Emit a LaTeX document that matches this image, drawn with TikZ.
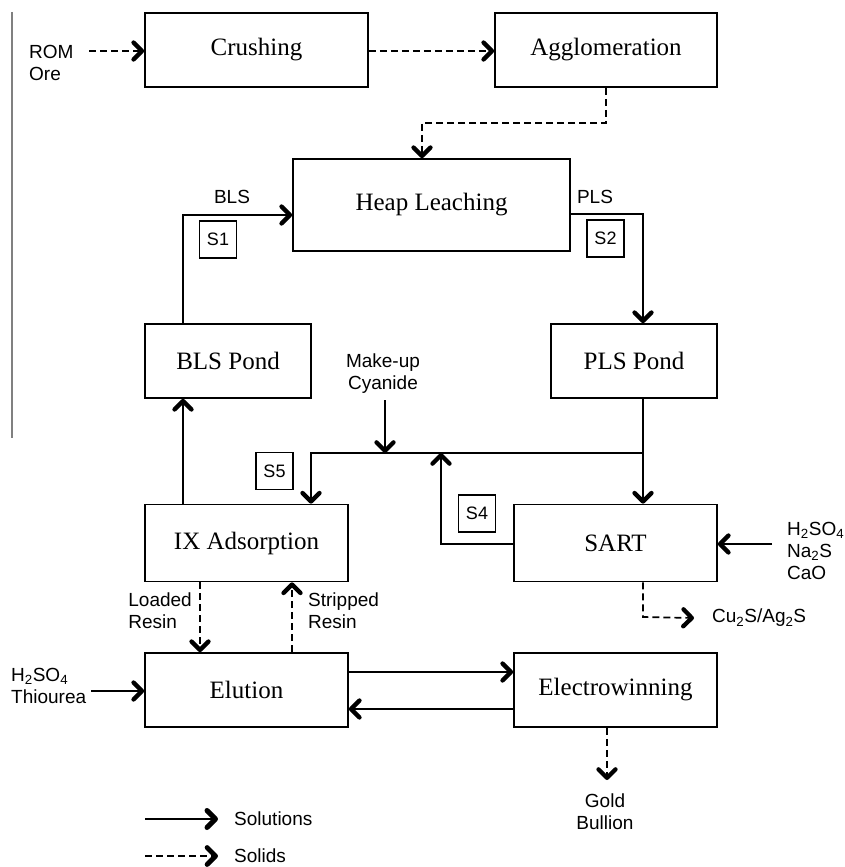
\documentclass[tikz,border=0pt]{standalone}
\usepackage{fontspec}
\setmainfont{Liberation Serif}
\newfontfamily\lsans{Liberation Sans}
\usetikzlibrary{arrows.meta}
\begin{document}
\begin{tikzpicture}[x=1pt,y=-1pt,
  box/.style={draw, line width=1.7pt, rectangle, inner sep=0pt, font=\fontsize{25}{30}\selectfont},
  sbox/.style={draw, line width=1.4pt, rectangle, inner sep=0pt, minimum width=37pt, minimum height=37pt, font=\lsans\fontsize{18}{21}\selectfont},
  lbl/.style={inner sep=0pt, font=\lsans\fontsize{19}{22}\selectfont},
  tip/.style={-{Straight Barb[length=8.5pt,width=17pt,line width=2.6pt 1,round]}},
  sol/.style={tip, line width=1.7pt},
  dsh/.style={tip, line width=1.7pt, dash pattern=on 7pt off 4pt},
]
\useasboundingbox (0,0) rectangle (844,867);
\draw[gray, line width=1.2pt] (12,12) -- (12,438);

% main boxes
\node[box, minimum width=223pt, minimum height=74pt] (crush) at (256.5,50) {Crushing};
\node[box, minimum width=222pt, minimum height=74pt] (aggl) at (606,50) {Agglomeration};
\node[box, minimum width=277pt, minimum height=92pt] (heap) at (431.5,205) {Heap Leaching};
\node[box, minimum width=166pt, minimum height=74pt] (blsp) at (228,361) {BLS Pond};
\node[box, minimum width=166pt, minimum height=74pt] (plsp) at (634,361) {PLS Pond};
\node[box, minimum width=203pt, minimum height=77pt] (ix) at (246.5,543) {IX Adsorption};
\node[box, minimum width=203pt, minimum height=77pt] (sart) at (615.5,543) {SART};
\node[box, minimum width=203pt, minimum height=74pt] (elu) at (246.5,690) {Elution};
\node[box, minimum width=203pt, minimum height=74pt] (ew) at (615.5,690) {Electrowinning};

% small stream boxes
\node[sbox] (s1) at (218,239.5) {S1};
\node[sbox] (s2) at (605.5,238.5) {S2};
\node[sbox] (s5) at (274.5,471) {S5};
\node[sbox] (s4) at (477,513.5) {S4};

% text labels
\node[lbl, align=left, anchor=west] (rom) at (29,63) {ROM\\Ore};
\node[lbl] (blst) at (232,197) {BLS};
\node[lbl] (plst) at (595,197) {PLS};
\node[lbl, align=center] (mk) at (383,374) {Make-up\\Cyanide};
\node[lbl, align=left, anchor=west] (rg) at (787,551) {H\textsubscript{2}SO\textsubscript{4}\\Na\textsubscript{2}S\\CaO};
\node[lbl, anchor=west] (cu) at (712,618) {Cu\textsubscript{2}S/Ag\textsubscript{2}S};
\node[lbl, align=left, anchor=east] (ldt) at (192,611) {Loaded\\Resin};
\node[lbl, align=left, anchor=west] (stt) at (308,611) {Stripped\\Resin};
\node[lbl, align=left, anchor=west] (thi) at (11,686) {H\textsubscript{2}SO\textsubscript{4}\\Thiourea};
\node[lbl, align=center] (gold) at (605,812) {Gold\\Bullion};
\node[lbl, anchor=west] (lsol) at (234,819) {Solutions};
\node[lbl, anchor=west] (lsd) at (234,856) {Solids};

% coordinates
\coordinate (romout) at (89,51);
\coordinate (j1) at (422,123);
\coordinate (bl) at (183,215);
\coordinate (pl) at (643,214);
\coordinate (jl) at (311,453);
\coordinate (jr) at (643,453);
\coordinate (mkin) at (385,453);
\coordinate (s4c) at (441,544);
\coordinate (rgo) at (772,544);
\coordinate (cuc) at (643,617);
\coordinate (ldc) at (200,600);
\coordinate (stc) at (292,600);
\coordinate (thc) at (91,691);
\coordinate (gdc) at (607,780);
\coordinate (leg1) at (145,819);
\coordinate (leg2) at (145,856);

% solids (dashed)
\draw[dsh] (romout) -- (romout -| crush.west);
\draw[dsh] (crush.east |- romout) -- (aggl.west |- romout);
\draw[dsh] (aggl.south) |- (j1) -- (j1 |- heap.north);
\draw[dsh] (cuc |- sart.south) -- (cuc) -- ([xshift=-18pt]cu.west);
\draw[dsh] (ldc |- ix.south) -- (ldc |- elu.north);
\draw[dsh] (stc |- elu.north) -- (stc |- ix.south);
\draw[dsh] (gdc |- ew.south) -- (gdc);

% solutions
\draw[sol] (bl |- blsp.north) -- (bl) -- (bl -| heap.west);
\draw[sol] (pl -| heap.east) -- (pl) -- (pl |- plsp.north);
\draw[sol] (jr |- plsp.south) -- (jr |- sart.north);
\draw[sol] (jr) -- (jl) -- (jl |- ix.north);
\draw[sol] (mkin |- mk.south) ++(0,6) -- (mkin);
\draw[sol] (sart.west |- s4c) -- (s4c) -- (s4c |- jr);
\draw[sol] (bl |- ix.north) -- (bl |- blsp.south);
\draw[sol] (rgo) -- (rgo -| sart.east);
\draw[sol] ([yshift=18pt]elu.east) -- ([yshift=18pt]ew.west);
\draw[sol] ([yshift=-19pt]ew.west) -- ([yshift=-19pt]elu.east);
\draw[sol] (thc) -- (thc -| elu.west);

% legend
\draw[tip, line width=2.4pt] (leg1) -- ++(73,0);
\draw[tip, line width=2.2pt, dash pattern=on 7pt off 4pt] (leg2) -- ++(73,0);
\end{tikzpicture}
\end{document}
